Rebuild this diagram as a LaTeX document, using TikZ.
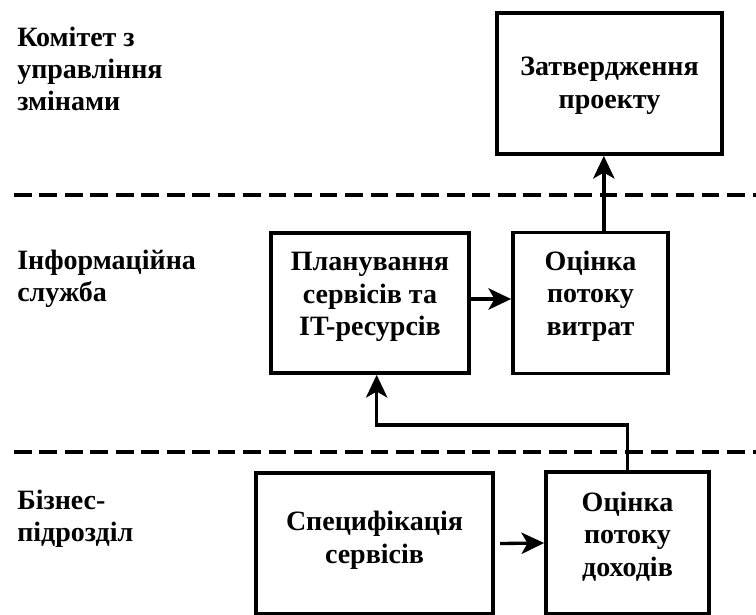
\documentclass[tikz,border=0pt]{standalone}
\usepackage{fontspec}
\setmainfont{Liberation Serif}
\usetikzlibrary{arrows.meta,calc}
\begin{document}
\begin{tikzpicture}[x=0.75pt,y=-0.75pt,
  box/.style={draw, line width=2.8pt, rectangle, inner sep=0pt},
  txt/.style={font=\bfseries\fontsize{21}{24.5}\selectfont, align=center, inner sep=0pt},
  lab/.style={font=\bfseries\fontsize{21}{23.7}\selectfont, align=left, inner sep=0pt, anchor=base west},
  arr/.style={line width=2.5pt, -{Stealth[length=17pt,width=16pt,inset=4.5pt]}},
  lane/.style={line width=3.2pt, dash pattern=on 13.3pt off 5.8pt}]
\useasboundingbox (0,0) rectangle (756,614);
% swimlane separators
\coordinate (s1a) at (14,195);
\coordinate (s1b) at (756,195);
\coordinate (s2a) at (14,452);
\coordinate (s2b) at (756,452);
\draw[lane] (s1a) -- (s1b);
\draw[lane] (s2a) -- (s2b);
% lane labels (base anchor = baseline of the last line)
\node[lab] (l1) at (17,110) {Комітет з\\управління\\змінами};
\node[lab] (l2) at (17,301) {Інформаційна\\служба};
\node[lab] (l3) at (17,541) {Бізнес-\\підрозділ};
% boxes
\node[box, minimum width=168.75pt, minimum height=105.75pt] (tb) at (609.5,83.5) {};
\node[box, minimum width=148.5pt, minimum height=105pt] (ml) at (370,303) {};
\node[box, minimum width=116.25pt, minimum height=105.75pt] (mr) at (590.5,303) {};
\node[box, minimum width=177.75pt, minimum height=105.75pt] (bl) at (374.5,543.5) {};
\node[box, minimum width=122.25pt, minimum height=106.5pt] (br) at (627.5,543) {};
% box texts
\node[txt] (tbt) at (609.5,86) {Затвердження\\проекту};
\node[txt] (mlt) at (370,297) {Планування\\сервісів та\\IT-ресурсів};
\node[txt] (mrt) at (590.5,296) {Оцінка\\потоку\\витрат};
\node[txt] (blt) at (374.5,540) {Специфікація\\сервісів};
\node[txt] (brt) at (627.5,536.5) {Оцінка\\потоку\\доходів};
% connectors
\coordinate (turn) at (0,425);
\draw[arr] ([xshift=10pt]mr.north) -- ([xshift=10pt]mr.north |- tb.south);
\draw[arr] ([yshift=3pt]ml.east) -- ([yshift=3pt]mr.west);
\draw[arr] (br.north) -- (br.north |- turn) -- ([xshift=5pt]ml.south |- turn) -- ([xshift=5pt]ml.south);
\draw[arr] ([xshift=4pt]bl.east) -- (br.west);
\end{tikzpicture}
\end{document}
